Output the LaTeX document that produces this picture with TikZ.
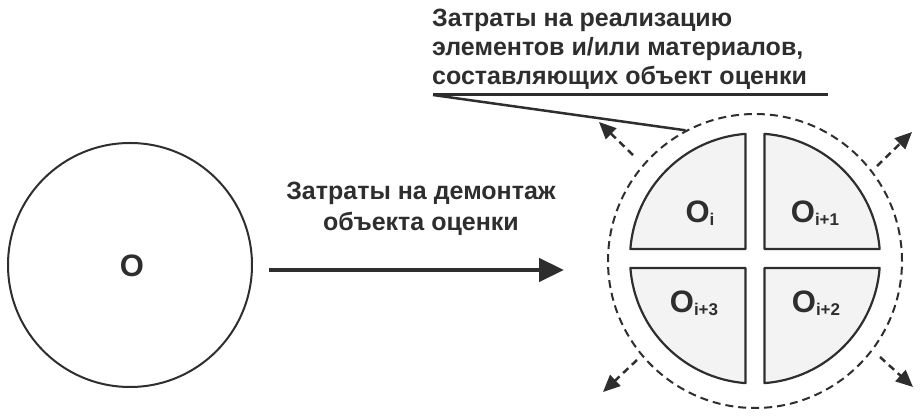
\documentclass[tikz,border=0pt]{standalone}
\usepackage{fontspec}
\setmainfont{Liberation Sans}
\usetikzlibrary{arrows.meta,calc}
\definecolor{ink}{HTML}{2E2E2E}
\definecolor{qfill}{HTML}{F3F3F3}
\begin{document}
\begin{tikzpicture}[x=1pt,y=1pt,
  lbl/.style={font=\fontsize{25}{29}\selectfont\bfseries, text=ink, inner sep=0pt},
  bigo/.style={font=\fontsize{31}{31}\selectfont\bfseries, text=ink, inner sep=0pt},
  quad/.style={draw=ink, line width=2.2pt, fill=qfill, line join=round},
  dasharrow/.style={draw=ink, line width=2.5pt, dash pattern=on 7pt off 5pt, -{Triangle[length=17pt,width=15pt]}},
  mainarrow/.style={draw=ink, line width=4.5pt, -{Triangle[length=25pt,width=23pt]}},
  thinline/.style={draw=ink, line width=2.5pt}]
\useasboundingbox (0,0) rectangle (922,417);
% left object
\node[circle, draw=ink, line width=2pt, minimum size=244pt, inner sep=0pt] (obj) at (130,152) {};
\node[bigo, anchor=base] (objlbl) at (132,140) {O};
% dashed ring
\node[circle, draw=ink, line width=2pt, dash pattern=on 8pt off 5pt, minimum size=294pt, inner sep=0pt] (ring) at (755,156) {};
% quadrants
\coordinate (c) at (755,158.5);
\draw[quad] ($(c)+(-9.5,9.5)$) -- ($(c)+(-124.64,9.5)$) arc[start angle=175.64, end angle=94.36, radius=125pt] -- cycle;
\draw[quad] ($(c)+(9.5,9.5)$) -- ($(c)+(9.5,124.64)$) arc[start angle=85.64, end angle=4.36, radius=125pt] -- cycle;
\draw[quad] ($(c)+(9.5,-9.5)$) -- ($(c)+(124.64,-9.5)$) arc[start angle=-4.36, end angle=-85.64, radius=125pt] -- cycle;
\draw[quad] ($(c)+(-9.5,-9.5)$) -- ($(c)+(-9.5,-124.64)$) arc[start angle=-94.36, end angle=-175.64, radius=125pt] -- cycle;
\newcommand{\qsub}[1]{\raisebox{-3pt}{\fontsize{17}{17}\selectfont #1}}
\node[bigo, anchor=base] (q1) at (700,194) {O\qsub{i}};
\node[bigo, anchor=base] (q2) at (815,194) {O\qsub{i+1}};
\node[bigo, anchor=base] (q3) at (816,104) {O\qsub{i+2}};
\node[bigo, anchor=base] (q4) at (694,104) {O\qsub{i+3}};
% main arrow and label
\draw[mainarrow] ([xshift=16pt,yshift=-5pt]obj.east) -- ([xshift=-43pt,yshift=-9pt]ring.west);
\node[lbl, anchor=base] (d1) at (421,217) {Затраты на демонтаж};
\node[lbl, anchor=base] (d2) at (421,186) {объекта оценки};
% top label
\node[lbl, anchor=base west] (t1) at (432,390) {Затраты на реализацию};
\node[lbl, anchor=base west] (t2) at (432,361) {элементов и/или материалов,};
\node[lbl, anchor=base west] (t3) at (432,332) {составляющих объект оценки};
\coordinate (ul1) at (433,322);
\coordinate (ul2) at (828,322);
\draw[thinline, line width=3pt] (ul1) -- (ul2);
\draw[thinline] (ul1) -- (ring.118.5);
% dashed arrows
\coordinate (a1s) at (633,262); \coordinate (a1e) at (599,295);
\coordinate (a2s) at (877,251); \coordinate (a2e) at (912,285);
\coordinate (a3s) at (637,57);  \coordinate (a3e) at (603,25);
\coordinate (a4s) at (880,60);  \coordinate (a4e) at (913,30);
\draw[dasharrow] (a1s) -- (a1e);
\draw[dasharrow] (a2s) -- (a2e);
\draw[dasharrow] (a3s) -- (a3e);
\draw[dasharrow] (a4s) -- (a4e);
\end{tikzpicture}
\end{document}
